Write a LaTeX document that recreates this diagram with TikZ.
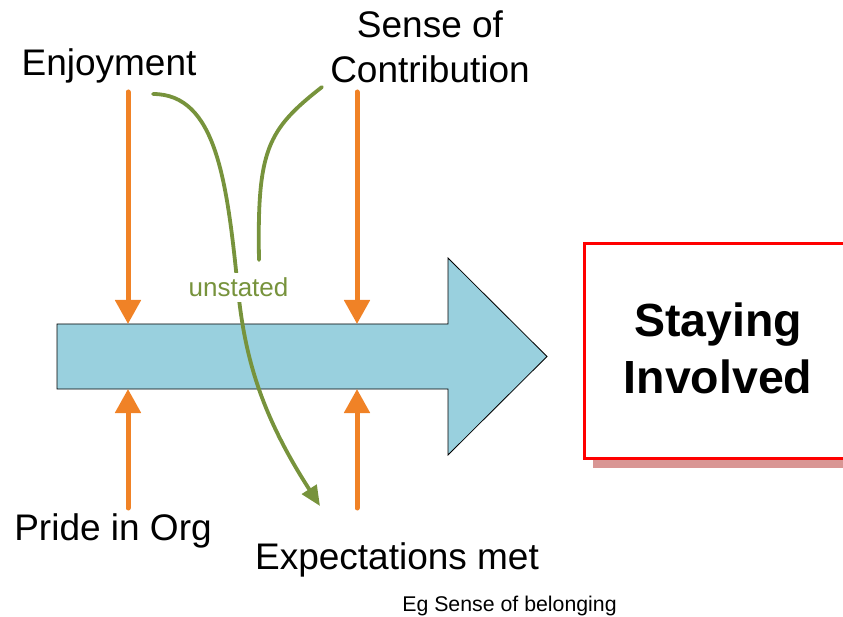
\documentclass[tikz,border=0pt]{standalone}
\usepackage{fontspec}
\setmainfont{Liberation Sans}
\usetikzlibrary{arrows.meta}
\definecolor{pushorange}{RGB}{240,130,38}
\definecolor{leafgreen}{RGB}{119,147,60}
\definecolor{flowblue}{RGB}{153,208,222}
\definecolor{boxred}{RGB}{255,0,0}
\definecolor{boxshadow}{RGB}{217,150,148}
\begin{document}
\begin{tikzpicture}[x=1pt,y=-1pt,
  bigtext/.style={font=\fontsize{37}{45}\selectfont, anchor=base, inner sep=0pt, align=center},
  force/.style={draw=pushorange, line width=5pt, line cap=round,
                -{Triangle[length=24pt,width=25pt]}},
  hidden/.style={draw=leafgreen, line width=3.8pt, line cap=round},
]
\useasboundingbox (0,0) rectangle (843,617);
\clip (0,0) rectangle (843,617);

% outcome box with its drop shadow
\fill[boxshadow] (593,253) rectangle (880,468);
\node (outbox) [draw=boxred, line width=3pt, fill=white,
  minimum width=296pt, minimum height=214pt, inner sep=0pt] at (732,351) {};
% multi-line nodes sit on the baseline of their last line
\node (outcome) [font=\fontsize{46.5}{57}\selectfont\bfseries, anchor=base,
  inner sep=0pt, align=center] at (718,393) {Staying\\Involved};

% main flow arrow
\coordinate (flowTL) at (57,324);
\coordinate (flowBL) at (57,389);
\filldraw[fill=flowblue, draw=black, line width=0.8pt]
  (flowTL) -- (448,324) -- (448,258) -- (547,356.5) -- (448,455)
  -- (448,389) -- (flowBL) -- cycle;

% influence labels
\node (enjoy) [bigtext] at (109,76) {Enjoyment};
\node (contrib) [bigtext] at (430,83) {Sense of\\Contribution};
\node (pride) [bigtext] at (113,540) {Pride in Org};
\node (expect) [bigtext] at (397,569) {Expectations met};
\node (belong) [font=\fontsize{21.3}{26}\selectfont, anchor=base, inner sep=0pt]
  at (509.5,611) {Eg Sense of belonging};

% orange forces pressing on the flow
\coordinate (enjoyFoot) at (128,92);
\coordinate (enjoyHit) at (128,324);
\coordinate (contribFoot) at (357,92);
\coordinate (contribHit) at (357,324);
\coordinate (prideFoot) at (128,508);
\coordinate (prideHit) at (128,389);
\coordinate (expectFoot) at (357,508);
\coordinate (expectHit) at (357,389);
\draw[force] (enjoyFoot) -- (enjoyHit);
\draw[force] (contribFoot) -- (contribHit);
\draw[force] (prideFoot) -- (prideHit);
\draw[force] (expectFoot) -- (expectHit);

% unstated influences (green)
\coordinate (enjoyTail) at (153,94);
\coordinate (unstatedPt) at (238,290);
\coordinate (expectTip) at (320,506);
\coordinate (contribTail) at (322,87);
\coordinate (contribEnd) at (259,260);
\draw[hidden, -{Triangle[length=20pt,width=17pt]}]
  (enjoyTail) .. controls (216,94) and (227,180) .. (unstatedPt)
  .. controls (245,359) and (262,416) .. (expectTip);
\draw[hidden] (contribTail) .. controls (267,130) and (257,150) .. (contribEnd);
\node (unstated) [font=\fontsize{26}{30}\selectfont, text=leafgreen, fill=white,
  anchor=base, inner sep=5pt] at (238.5,297) {unstated};
\end{tikzpicture}
\end{document}
